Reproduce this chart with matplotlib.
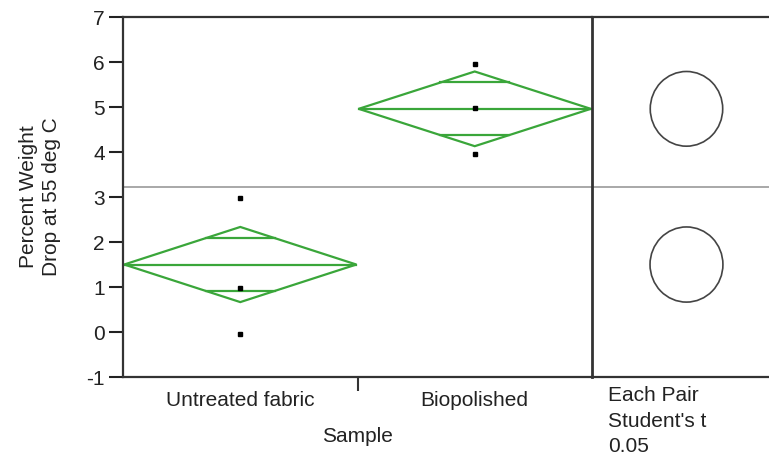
import numpy as np
import matplotlib.pyplot as plt
from matplotlib.patches import Polygon, Ellipse

# dados
grupos = ['Untreated fabric', 'Biopolished']
pontos_untreated = [2.97, 0.97, -0.05]
pontos_biopolished = [5.95, 4.97, 3.95]
medias = [1.50, 4.96]
ic_meia = [0.835, 0.83]   # meia largura do intervalo de confiança (diamante)
media_geral = 3.22
y_ticks = [-1, 0, 1, 2, 3, 4, 5, 6, 7]

plt.rcParams['font.family'] = ['Liberation Sans', 'DejaVu Sans']
plt.rcParams['axes.unicode_minus'] = False
verde = '#3aa63a'
cor_eixo = '#333333'

fig = plt.figure(figsize=(7.69, 4.63), dpi=100)
ax2 = fig.add_axes([0.7698, 0.1857, 0.2302, 0.7775])
ax = fig.add_axes([0.160, 0.1857, 0.6098, 0.7775])
ax.patch.set_visible(False)

ax.set_xlim(0, 2)
ax.set_ylim(-1, 7)

# linha da média geral
ax.axhline(media_geral, color='#999999', lw=1.2, zorder=1)

todos_pontos = [pontos_untreated, pontos_biopolished]
for i, (m, ci, pts) in enumerate(zip(medias, ic_meia, todos_pontos)):
    x0, xc, x1 = i + 0.005, i + 0.5, i + 0.995
    diamante = Polygon([[x0, m], [xc, m + ci], [x1, m], [xc, m - ci]],
                       closed=True, fill=False, edgecolor=verde, lw=1.6, zorder=2)
    ax.add_patch(diamante)
    ax.plot([x0, x1], [m, m], color=verde, lw=1.6, zorder=2)
    # marcas de sobreposição
    h = ci / np.sqrt(2)
    meia = (1 - h / ci) * 0.5
    for s in (1, -1):
        ax.plot([xc - meia, xc + meia], [m + s * h, m + s * h], color=verde, lw=1.6, zorder=2)
    ax.plot([xc] * len(pts), pts, 's', color='black', ms=2.5, zorder=3)

ax.set_yticks(y_ticks)
ax.set_xticks([0.5, 1.5])
ax.set_xticklabels(grupos)
ax.set_xticks([1], minor=True)
ax.tick_params(axis='x', which='major', length=0, pad=10, labelsize=15, colors='#222222')
ax.tick_params(axis='x', which='minor', length=10, width=1.5, direction='out', color=cor_eixo)
ax.tick_params(axis='y', length=10, width=1.5, direction='out', pad=3, labelsize=15,
               colors='#222222')
for sp in ax.spines.values():
    sp.set_color(cor_eixo)
    sp.set_linewidth(1.6)
ax.spines['right'].set_linewidth(2)
ax.set_xlabel('Sample', fontsize=15, color='#222222', labelpad=12)
ax.set_ylabel('Percent Weight\nDrop at 55 deg C', fontsize=15, color='#222222',
              labelpad=18, linespacing=1.3)

# painel dos círculos de comparação
larg_px = 0.2302 * 769
ax2.set_xlim(0, larg_px / 45.0)
ax2.set_ylim(-1, 7)
ax2.axhline(media_geral, color='#999999', lw=1.2, zorder=1)
for m, ci in zip(medias, ic_meia):
    ax2.add_patch(Ellipse((2.1, m), 2 * ci * 0.97, 2 * ci, fill=False,
                          edgecolor='#444444', lw=1.2))
ax2.set_xticks([])
ax2.set_yticks([])
ax2.spines['right'].set_visible(False)
ax2.spines['left'].set_visible(False)
for k in ('top', 'bottom'):
    ax2.spines[k].set_color(cor_eixo)
    ax2.spines[k].set_linewidth(1.6)

fig.text(608 / 769, 1 - 386 / 463, "Each Pair\nStudent's t\n0.05", fontsize=15,
         color='#222222', va='top', ha='left', linespacing=1.45)

fig.savefig('out.png', dpi=100)
